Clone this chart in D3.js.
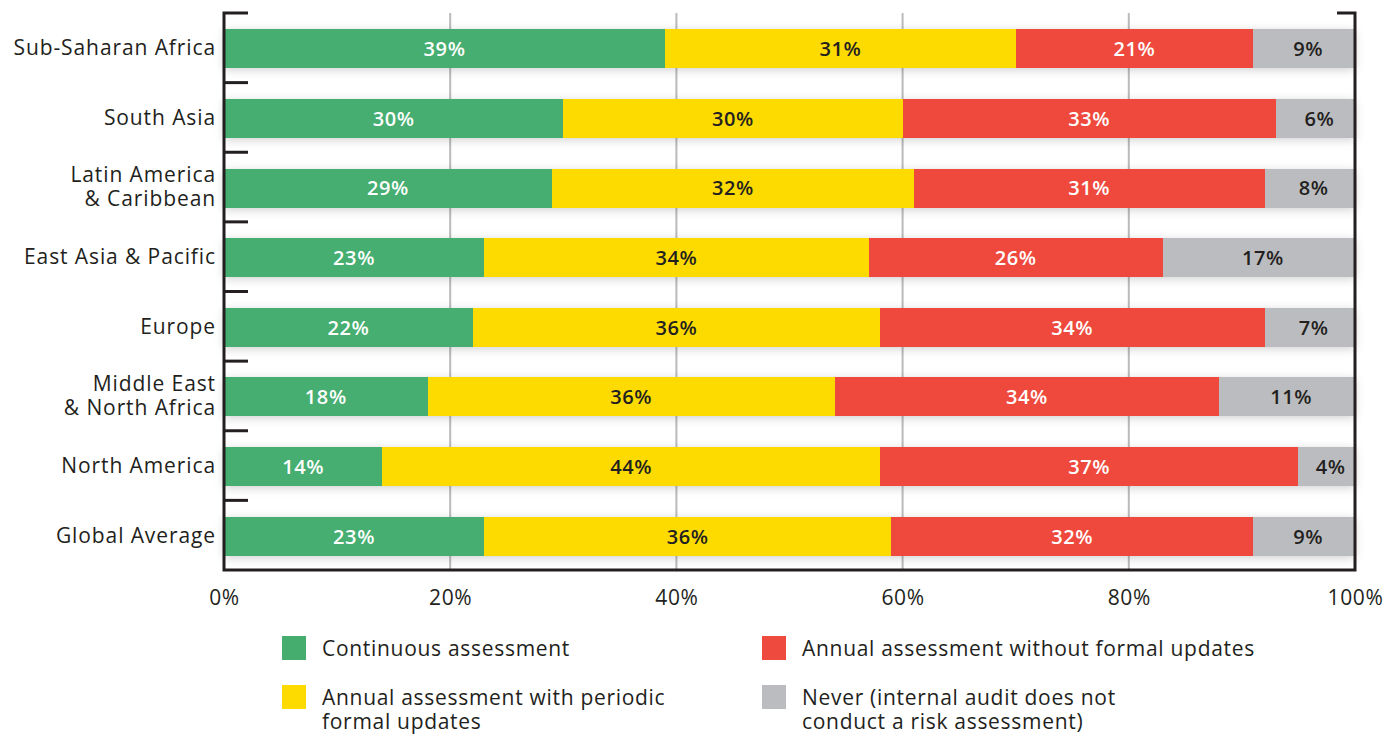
<!DOCTYPE html>
<html>
<head>
<meta charset="utf-8">
<script src="https://cdn.jsdelivr.net/npm/d3@7"></script>
<style>
  body { margin: 0; background: #fff; }
  svg { display: block; font-family: "Open Sans", sans-serif; }
</style>
</head>
<body>
<div id="chart"></div>
<script>
// regions, top to bottom; "\n" splits the label on two lines
const regions = [
  "Sub-Saharan Africa",
  "South Asia",
  "Latin America\n& Caribbean",
  "East Asia & Pacific",
  "Europe",
  "Middle East\n& North Africa",
  "North America",
  "Global Average"
];

const seriesNames = [
  "Continuous assessment",
  "Annual assessment with periodic formal updates",
  "Annual assessment without formal updates",
  "Never (internal audit does not conduct a risk assessment)"
];

// percentages per region, same order as regions
const continuous  = [39, 30, 29, 23, 22, 18, 14, 23];
const periodic    = [31, 30, 32, 34, 36, 36, 44, 36];
const noUpdates   = [21, 33, 31, 26, 34, 34, 37, 32];
const never       = [9, 6, 8, 17, 7, 11, 4, 9];

const xTicks = [0, 20, 40, 60, 80, 100];

const colors = ["#45ae6f", "#fedb00", "#ef4a3e", "#bbbcbf"];
const labelColors = ["#ffffff", "#231f20", "#ffffff", "#231f20"];

const W = 1392, H = 736;
const mLeft = 224, mRight = 1355, mTop = 13, mBottom = 570;
const ink = "#231f20";

const series = [continuous, periodic, noUpdates, never];

const x = d3.scaleLinear([0, 100], [mLeft, mRight]);
const y = d3.scaleBand(regions, [mTop, mBottom]);
const barH = y.bandwidth() * 0.56;

const svg = d3.select("#chart").append("svg")
    .attr("width", W)
    .attr("height", H)
    .attr("viewBox", [0, 0, W, H]);

const defs = svg.append("defs");
defs.append("filter")
    .attr("id", "shadow")
    .attr("x", "-5%").attr("y", "-60%")
    .attr("width", "110%").attr("height", "220%")
  .append("feDropShadow")
    .attr("dx", 0).attr("dy", 2)
    .attr("stdDeviation", 5)
    .attr("flood-color", "#000")
    .attr("flood-opacity", 0.18);

// gridlines
svg.append("g")
  .selectAll("line")
  .data(xTicks.filter(d => d > 0 && d < 100))
  .join("line")
    .attr("x1", d => x(d)).attr("x2", d => x(d))
    .attr("y1", mTop).attr("y2", mBottom)
    .attr("stroke", "#b9babc")
    .attr("stroke-width", 2);

// stacked segments; the last category fills up to 100% (labels are rounded)
const rows = regions.map((r, i) => {
  let acc = 0;
  return series.map((s, k) => {
    const x0 = acc;
    acc += s[i];
    const x1 = k === series.length - 1 ? 100 : acc;
    return {region: r, k, v: s[i], x0, x1};
  });
});

const row = svg.append("g")
  .selectAll("g")
  .data(rows)
  .join("g")
    .attr("transform", d => `translate(0,${y(d[0].region) + (y.bandwidth() - barH) / 2 + 1})`);

row.append("g")
    .attr("filter", "url(#shadow)")
  .selectAll("rect")
  .data(d => d)
  .join("rect")
    .attr("x", d => x(d.x0))
    .attr("width", d => x(d.x1) - x(d.x0))
    .attr("height", barH)
    .attr("fill", d => colors[d.k])
    .attr("shape-rendering", "crispEdges");

row.selectAll("text")
  .data(d => d)
  .join("text")
    .attr("x", d => (x(d.x0) + x(d.x1)) / 2 + (d.k === 3 ? 4 : 0))
    .attr("y", barH / 2)
    .attr("dy", "0.37em")
    .attr("text-anchor", "middle")
    .attr("font-size", 20)
    .attr("font-weight", 600)
    .attr("letter-spacing", 0.6)
    .attr("fill", d => labelColors[d.k])
    .text(d => d.v + "%");

// frame: left axis with ticks, bottom axis, right edge
const frame = svg.append("g")
    .attr("stroke", ink)
    .attr("stroke-width", 3)
    .attr("fill", "none");

frame.append("path")
    .attr("d", `M${mLeft + 24},${mTop}H${mLeft}V${mBottom}H${mRight}V${mTop}H${mRight - 18}`);

frame.selectAll("line")
  .data(regions.slice(1).map(r => y(r)))
  .join("line")
    .attr("x1", mLeft).attr("x2", mLeft + 24)
    .attr("y1", d => d).attr("y2", d => d);

// category labels, one text per line
const cat = svg.append("g")
    .attr("font-size", 21)
    .attr("letter-spacing", 0.9)
    .attr("fill", ink)
    .attr("text-anchor", "end")
  .selectAll("g")
  .data(regions)
  .join("g")
    .attr("transform", d => `translate(216,${y(d) + y.bandwidth() / 2})`);

cat.selectAll("text")
  .data(d => d.split("\n").map((ln, i, a) => ({ln, off: (i - (a.length - 1) / 2) * 24})))
  .join("text")
    .attr("y", d => d.off)
    .attr("dy", "0.35em")
    .text(d => d.ln);

// x axis labels
svg.append("g")
    .attr("transform", `translate(0,${mBottom})`)
    .call(d3.axisBottom(x).tickValues(xTicks).tickSize(0).tickPadding(20).tickFormat(d => d + "%"))
    .call(g => g.select(".domain").remove())
    .call(g => g.selectAll("text")
        .attr("font-family", "Open Sans, sans-serif")
        .attr("font-size", 21)
        .attr("letter-spacing", 0.6)
        .attr("fill", ink));

// legend
const legendPos = [[282, 636], [282, 685], [762, 636], [762, 685]];
const legendLines = [
  ["Continuous assessment"],
  ["Annual assessment with periodic", "formal updates"],
  ["Annual assessment without formal updates"],
  ["Never (internal audit does not", "conduct a risk assessment)"]
];

const leg = svg.append("g")
  .selectAll("g")
  .data(seriesNames)
  .join("g")
    .attr("transform", (d, i) => `translate(${legendPos[i][0]},${legendPos[i][1]})`);

leg.append("rect")
    .attr("width", 24).attr("height", 24)
    .attr("fill", (d, i) => colors[i]);

leg.selectAll("text")
  .data((d, i) => legendLines[i])
  .join("text")
    .attr("font-size", 21)
    .attr("letter-spacing", 0.7)
    .attr("fill", ink)
    .attr("x", 40)
    .attr("y", (d, j) => 20 + j * 24)
    .text(d => d);
</script>
</body>
</html>
